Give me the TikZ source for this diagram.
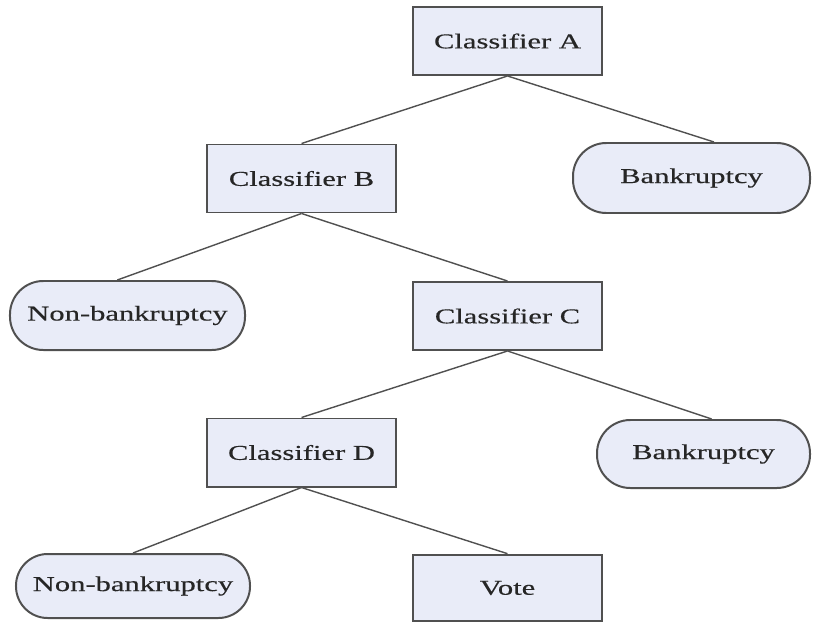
\documentclass[tikz,border=0pt]{standalone}
\usepackage{fontspec}
\setmainfont{Liberation Serif}
\newfontfamily\labelfont[FakeStretch=1.45, FakeBold=0.4]{Liberation Serif}
\definecolor{boxfill}{HTML}{E9ECF8}
\definecolor{boxline}{HTML}{505050}
\begin{document}
\begin{tikzpicture}[x=0.03cm, y=-0.03cm,
    classbox/.style={draw=boxline, line width=1.7pt, fill=boxfill, minimum width=5.67cm, minimum height=2.04cm, font=\labelfont\fontsize{18}{21}\selectfont, text=black!85},
    leafbox/.style={classbox, rounded corners=1cm},
    link/.style={draw=boxline, line width=1.2pt}]
    \clip (0,0) rectangle (820,621);
    \node[classbox] (A) at (507.5,41) {Classifier A};
    \node[classbox] (B) at (301.5,178.5) {Classifier B};
    \node[leafbox, minimum width=7.11cm, minimum height=2.1cm] (bk1) at (691.5,178) {Bankruptcy};
    \node[leafbox, minimum width=7.05cm, minimum height=2.07cm] (nb1) at (127.5,315.5) {Non-bankruptcy};
    \node[classbox] (C) at (507.5,316) {Classifier C};
    \node[classbox] (D) at (301.5,452.5) {Classifier D};
    \node[leafbox, minimum width=6.39cm, minimum height=2.04cm] (bk2) at (703.5,454) {Bankruptcy};
    \node[leafbox, minimum width=7.02cm, minimum height=1.92cm, rounded corners=0.95cm] (nb2) at (133,586) {Non-bankruptcy};
    \node[classbox, minimum height=2cm] (vote) at (507.5,588) {Vote};
    \draw[link] (A.south) -- (B.north);
    \draw[link] (A.south) -- (bk1.58);
    \draw[link] (B.south) -- (nb1.106);
    \draw[link] (B.south) -- (C.north);
    \draw[link] (C.south) -- (D.north);
    \draw[link] (C.south) -- (bk2.77);
    \draw[link] (D.south) -- (nb2.north);
    \draw[link] (D.south) -- (vote.north);
\end{tikzpicture}
\end{document}
